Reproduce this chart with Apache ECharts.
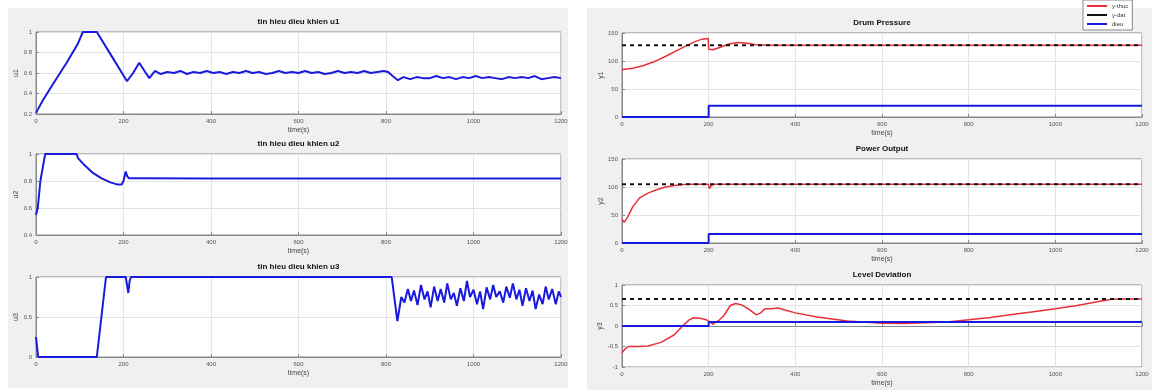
<!DOCTYPE html>
<html>
<head>
<meta charset="utf-8">
<script src="https://cdn.jsdelivr.net/npm/echarts@6/dist/echarts.min.js"></script>
<style>
  html, body { margin: 0; padding: 0; background: #fff; }
  #chart { width: 1152px; height: 390px; }
</style>
</head>
<body>
<div id="chart"></div>
<script>
// time ticks shared by all six plots
const timeTicks = [0, 200, 400, 600, 800, 1000, 1200]

// left figure: control signals [t, value]
const u1 = [[0,0.21],[5,0.25],[15,0.33],[40,0.5],[70,0.7],[95,0.88],[107,1],[139,1],[175,0.75],[208,0.52],[222,0.6],[236,0.7],[248,0.62],[259,0.55],[272,0.62],[285,0.59],[300,0.61],[315,0.6],[330,0.62],[345,0.59],[360,0.61],[375,0.6],[390,0.62],[405,0.6],[420,0.61],[435,0.59],[450,0.61],[465,0.6],[480,0.62],[495,0.6],[510,0.61],[525,0.59],[540,0.6],[555,0.62],[570,0.6],[585,0.61],[600,0.6],[615,0.62],[630,0.6],[645,0.61],[660,0.59],[675,0.6],[690,0.62],[705,0.6],[720,0.61],[735,0.6],[750,0.62],[765,0.6],[780,0.61],[795,0.62],[805,0.61],[815,0.57],[827,0.53],[840,0.56],[855,0.54],[870,0.56],[885,0.55],[900,0.55],[915,0.57],[930,0.55],[945,0.56],[960,0.54],[975,0.56],[990,0.55],[1005,0.57],[1020,0.55],[1035,0.56],[1050,0.55],[1065,0.54],[1080,0.56],[1095,0.55],[1110,0.56],[1125,0.55],[1140,0.57],[1155,0.54],[1170,0.55],[1185,0.56],[1200,0.55]]
const u2 = [[0,0.55],[4,0.6],[10,0.8],[21,1],[93,1],[96,0.97],[110,0.92],[130,0.86],[150,0.82],[170,0.79],[185,0.775],[196,0.775],[200,0.8],[205,0.87],[208,0.84],[212,0.82],[230,0.82],[400,0.818],[800,0.818],[1200,0.818]]
const u3 = [[0,0.25],[5,0],[139,0],[160,1],[205,1],[208,0.9],[211,0.8],[214,0.95],[217,1],[813,1],[826,0.45],[835,0.75],[842,0.68],[850,0.85],[857,0.7],[864,0.83],[872,0.65],[880,0.9],[888,0.72],[895,0.82],[902,0.62],[910,0.88],[918,0.7],[925,0.85],[933,0.68],[940,0.92],[948,0.72],[955,0.8],[962,0.64],[970,0.86],[978,0.7],[985,0.95],[992,0.75],[1000,0.84],[1008,0.66],[1015,0.82],[1022,0.6],[1030,0.87],[1038,0.72],[1045,0.9],[1052,0.75],[1060,0.82],[1068,0.68],[1075,0.88],[1083,0.74],[1090,0.92],[1098,0.72],[1105,0.84],[1112,0.64],[1120,0.86],[1128,0.7],[1135,0.83],[1142,0.6],[1150,0.78],[1158,0.66],[1165,0.88],[1172,0.72],[1180,0.85],[1188,0.66],[1195,0.82],[1200,0.75]]

// right figure: outputs, setpoints, control steps
const y1Real = [[0,85],[25,87],[50,92],[75,99],[100,108],[125,118],[150,128],[170,135],[185,139],[199,140],[200,121],[210,120],[225,124],[245,130],[265,133],[285,132],[310,129],[350,128],[1200,128]]
const y1Set = [[0,128],[1200,128]]
const y1Ctrl = [[0,0],[200,0],[200,20],[1200,20]]

const y2Real = [[0,42],[5,37],[12,45],[25,65],[40,80],[60,89],[80,95],[100,100],[125,103],[150,105],[199,105],[202,97],[206,103],[212,105],[1200,105]]
const y2Set = [[0,105],[1200,105]]
const y2Ctrl = [[0,0],[200,0],[200,16],[1200,16]]

const y3Real = [[0,-0.65],[8,-0.55],[15,-0.5],[40,-0.5],[60,-0.49],[90,-0.4],[120,-0.22],[140,0],[155,0.15],[165,0.2],[180,0.19],[195,0.15],[205,0.08],[210,0.04],[215,0.1],[222,0.12],[235,0.25],[250,0.5],[262,0.55],[275,0.52],[290,0.43],[310,0.27],[320,0.32],[330,0.42],[345,0.42],[360,0.44],[380,0.38],[400,0.32],[450,0.22],[520,0.12],[600,0.07],[650,0.06],[700,0.08],[750,0.1],[800,0.15],[850,0.21],[900,0.28],[950,0.35],[1000,0.42],[1050,0.5],[1100,0.6],[1130,0.65],[1150,0.66],[1200,0.66]]
const y3Set = [[0,0.66],[1200,0.66]]
const y3Ctrl = [[0,0],[200,0],[200,0.1],[1200,0.1]]

const legendNames = ['y-thuc', 'y-dat', 'dieu']
const titles = ['tin hieu dieu khien u1', 'tin hieu dieu khien u2', 'tin hieu dieu khien u3', 'Drum Pressure', 'Power Output', 'Level Deviation']

const chart = echarts.init(document.getElementById('chart'), null, { renderer: 'canvas' })

const grids = [
  { left: 36, width: 525, top: 32, height: 82 },
  { left: 36, width: 525, top: 154, height: 81 },
  { left: 36, width: 525, top: 277, height: 80 },
  { left: 622, width: 520, top: 33, height: 84 },
  { left: 622, width: 520, top: 159, height: 84 },
  { left: 622, width: 520, top: 285, height: 82 },
]

const yRanges = [
  { min: 0.2, max: 1, interval: 0.2, name: 'u1' },
  { min: 0.4, max: 1, interval: 0.2, name: 'u2' },
  { min: 0, max: 1, interval: 0.5, name: 'u3' },
  { min: 0, max: 150, interval: 50, name: 'y1' },
  { min: 0, max: 150, interval: 50, name: 'y2' },
  { min: -1, max: 1, interval: 0.5, name: 'y3' },
]

const tickFont = { fontSize: 6, color: '#555', fontFamily: 'Liberation Sans' }

const xAxes = grids.map((g, i) => ({
  type: 'value', gridIndex: i, min: 0, max: 1200, interval: 200,
  name: 'time(s)', nameLocation: 'middle', nameGap: 13,
  nameTextStyle: { fontSize: 7, color: '#444', fontFamily: 'Liberation Sans' },
  axisLabel: { ...tickFont, margin: 4, formatter: v => timeTicks.includes(v) ? String(v) : '' },
  axisLine: { lineStyle: { color: '#888' } },
  axisTick: { inside: true, length: 3, lineStyle: { color: '#888' } },
  splitLine: { show: true, lineStyle: { color: '#e4e4e4' } },
}))

const yAxes = yRanges.map((r, i) => ({
  type: 'value', gridIndex: i, min: r.min, max: r.max, interval: r.interval,
  name: r.name, nameLocation: 'middle', nameGap: 16, nameRotate: 90,
  nameTextStyle: { fontSize: 7, color: '#444', fontFamily: 'Liberation Sans' },
  axisLabel: { ...tickFont, margin: 4 },
  axisLine: { show: true, lineStyle: { color: '#888' } },
  axisTick: { inside: true, length: 3, lineStyle: { color: '#888' } },
  splitLine: { show: true, lineStyle: { color: '#e4e4e4' } },
}))

const blue = '#1a1adf'
const red = '#e8303a'

const lineSeries = (data, idx, color, width, name, dashed) => ({
  type: 'line', name, data, xAxisIndex: idx, yAxisIndex: idx,
  showSymbol: false, symbol: 'none', animation: false,
  lineStyle: { color, width, type: dashed ? [4, 4] : 'solid' },
  itemStyle: { color },
  z: dashed ? 3 : 2,
})

const series = [
  lineSeries(u1, 0, blue, 2),
  lineSeries(u2, 1, blue, 2),
  lineSeries(u3, 2, blue, 2),
  lineSeries(y1Real, 3, red, 1.5, legendNames[0]),
  lineSeries(y1Set, 3, '#111', 2, legendNames[1], true),
  lineSeries(y1Ctrl, 3, blue, 2, legendNames[2]),
  lineSeries(y2Real, 4, red, 1.5, legendNames[0]),
  lineSeries(y2Set, 4, '#111', 2, legendNames[1], true),
  lineSeries(y2Ctrl, 4, blue, 2, legendNames[2]),
  lineSeries(y3Real, 5, red, 1.5, legendNames[0]),
  lineSeries(y3Set, 5, '#111', 2, legendNames[1], true),
  lineSeries(y3Ctrl, 5, blue, 2, legendNames[2]),
]

const titleText = grids.map((g, i) => ({
  type: 'text', z: 10,
  x: g.left + g.width / 2, y: g.top - 10,
  style: { text: titles[i], font: 'bold 8px Liberation Sans', fill: '#111', textAlign: 'center', textVerticalAlign: 'middle' },
}))

const option = {
  animation: false,
  backgroundColor: '#fff',
  graphic: [
    { type: 'rect', z: -10, shape: { x: 8, y: 8, width: 560, height: 380 }, style: { fill: '#f0f0f0' } },
    { type: 'rect', z: -10, shape: { x: 587, y: 8, width: 565, height: 382 }, style: { fill: '#f0f0f0' } },
    ...titleText,
  ],
  grid: grids.map(g => ({ ...g, show: true, backgroundColor: '#fff', borderColor: '#888', borderWidth: 1 })),
  xAxis: xAxes,
  yAxis: yAxes,
  legend: {
    data: legendNames, orient: 'vertical', left: 1083, top: 0,
    itemWidth: 20, itemHeight: 6, itemGap: 3, padding: [3, 4],
    backgroundColor: '#fff', borderColor: '#888', borderWidth: 1,
    textStyle: { fontSize: 6, color: '#333', fontFamily: 'Liberation Sans' },
    icon: 'path://M0,0H1V0.1H0Z',
  },
  series,
}

chart.setOption(option)
</script>
</body>
</html>
